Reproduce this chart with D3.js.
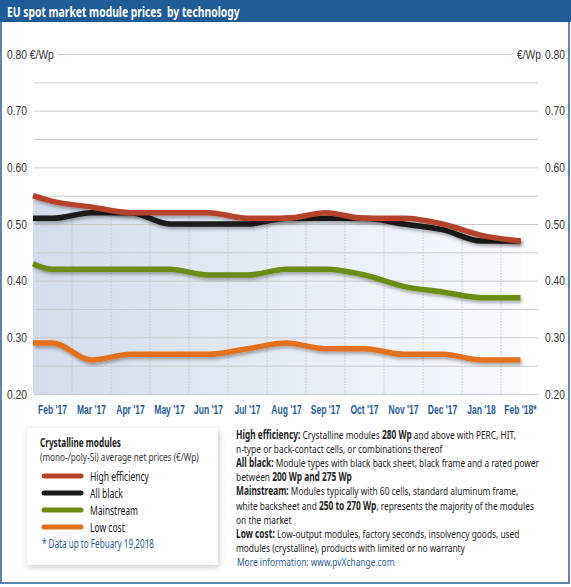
<!DOCTYPE html>
<html>
<head>
<meta charset="utf-8">
<script src="https://cdn.jsdelivr.net/npm/d3@7"></script>
<style>
  html, body { margin: 0; padding: 0; background: #fff; }
  svg { display: block; font-family: "Noto Sans", "Open Sans", sans-serif; }
  svg text { white-space: pre; }
</style>
</head>
<body>
<svg id="chart" width="571" height="587"></svg>
<script>
// ---------------- DATA ----------------
const months = ["Feb '17", "Mar '17", "Apr '17", "May '17", "Jun '17", "Jul '17", "Aug '17",
                "Sep '17", "Oct '17", "Nov '17", "Dec '17", "Jan '18", "Feb '18*"];
const seriesNames = ["High efficiency", "All black", "Mainstream", "Low cost"];
// value at the left edge of the chart (start of February 2017)
const startValues = [0.55, 0.51, 0.43, 0.29];
const highEfficiency = [0.54, 0.53, 0.52, 0.52, 0.52, 0.51, 0.51, 0.52, 0.51, 0.51, 0.50, 0.48, 0.47];
const allBlack       = [0.51, 0.52, 0.52, 0.50, 0.50, 0.50, 0.51, 0.51, 0.51, 0.50, 0.49, 0.47, 0.47];
const mainstream     = [0.42, 0.42, 0.42, 0.42, 0.41, 0.41, 0.42, 0.42, 0.41, 0.39, 0.38, 0.37, 0.37];
const lowCost        = [0.29, 0.26, 0.27, 0.27, 0.27, 0.28, 0.29, 0.28, 0.28, 0.27, 0.27, 0.26, 0.26];
const majorTicks = [0.20, 0.30, 0.40, 0.50, 0.60, 0.70, 0.80];
const gridTicks  = [0.20, 0.25, 0.30, 0.35, 0.40, 0.45, 0.50, 0.55, 0.60, 0.65, 0.70, 0.75, 0.80];
const unitLabel = "€/Wp";
const titleText = "EU spot market module prices  by technology";
const legendTitle = "Crystalline modules";
const legendSubtitle = "(mono-/poly-Si) average net prices (€/Wp)";
const footnote = "* Data up to Febuary 19,2018";
const colors = ["#b5432b", "#1b1b1b", "#6d8c12", "#e3701b"];
const notes = [
  [["High efficiency:", true], [" Crystalline modules ", false], ["280 Wp", true], [" and above with PERC, HIT,", false]],
  [["n-type or back-contact cells, or combinations thereof", false]],
  [["All black:", true], [" Module types with black back sheet, black frame and a rated power", false]],
  [["between ", false], ["200 Wp and 275 Wp", true]],
  [["Mainstream:", true], [" Modules typically with 60 cells, standard aluminum frame,", false]],
  [["white backsheet and ", false], ["250 to 270 Wp", true], [", represents the majority of the modules", false]],
  [["on the market", false]],
  [["Low cost:", true], [" Low-output modules, factory seconds, insolvency goods, used", false]],
  [["modules (crystalline), products with limited or no warranty", false]]
];
const moreInfo = "More information: www.pvXchange.com";

// ---------------- HELPERS ----------------
// horizontally condense text (the reference uses a condensed typeface)
function squeeze(sel, k) {
  sel.each(function () {
    const t = d3.select(this);
    const x = +t.attr("x") || 0, y = +t.attr("y") || 0;
    t.attr("x", 0).attr("y", 0).attr("transform", `translate(${x},${y}) scale(${k},1)`);
  });
}
const widthOf = sel => sel.node().getComputedTextLength();

// ---------------- LAYOUT ----------------
const svg = d3.select("#chart");
const W = 571;
const plotL = 33, plotR = 540, plotT = 54, plotB = 394;
const gridL = 34, gridR = 538;
const blue = "#1f5b97";

const defs = svg.append("defs");
const grad = defs.append("linearGradient").attr("id", "bgGrad").attr("x1", "0").attr("x2", "1").attr("y1", "0").attr("y2", "0");
grad.append("stop").attr("offset", "0%").attr("stop-color", "#d3dcec");
grad.append("stop").attr("offset", "100%").attr("stop-color", "#f8fafd");
const shadow = defs.append("filter").attr("id", "lineShadow").attr("x", "-5%").attr("y", "-20%").attr("width", "110%").attr("height", "160%");
shadow.append("feDropShadow").attr("dx", 1.5).attr("dy", 2.5).attr("stdDeviation", 1.5).attr("flood-color", "#000").attr("flood-opacity", 0.3);
const boxShadow = defs.append("filter").attr("id", "boxShadow").attr("x", "-10%").attr("y", "-10%").attr("width", "120%").attr("height", "120%");
boxShadow.append("feDropShadow").attr("dx", 1).attr("dy", 2).attr("stdDeviation", 3).attr("flood-color", "#000").attr("flood-opacity", 0.22);

// frame
svg.append("rect").attr("x", 1).attr("y", 0).attr("width", W - 3).attr("height", 583)
  .attr("fill", "#fff").attr("stroke", "#5d86b3").attr("stroke-width", 2);
// title bar
svg.append("rect").attr("x", 0).attr("y", 0).attr("width", W).attr("height", 22).attr("fill", blue);
const title = svg.append("text").attr("x", 7).attr("y", 16.5).attr("fill", "#fff")
  .attr("font-size", 15).attr("font-weight", "bold").text(titleText);
squeeze(title, 233 / widthOf(title));

// scales
const x = d3.scaleBand().domain(months).range([plotL, plotR]).padding(0);
const y = d3.scaleLinear().domain([0.2, 0.8]).range([plotB, plotT]);
const cx = m => x(m) + x.bandwidth() / 2;

const allSeries = [highEfficiency, allBlack, mainstream, lowCost].map((vals, i) => {
  const pts = [{ x: x(months[0]), v: startValues[i] }];
  vals.forEach((v, j) => pts.push({ x: cx(months[j]), v }));
  return { name: seriesNames[i], color: colors[i], pts };
});

const curve = d3.curveMonotoneX;
// area under high efficiency
const area = d3.area().x(d => d.x).y0(y(0.2)).y1(d => y(d.v)).curve(curve);
defs.append("clipPath").attr("id", "areaClip").append("path").attr("d", area(allSeries[0].pts));
svg.append("path").attr("d", area(allSeries[0].pts)).attr("fill", "url(#bgGrad)");

// vertical dashed month separators inside the area
svg.append("g").attr("clip-path", "url(#areaClip)")
  .selectAll("line").data(months.slice(1)).join("line")
  .attr("x1", d => x(d)).attr("x2", d => x(d)).attr("y1", plotT).attr("y2", plotB)
  .attr("stroke", "#b4bcc8").attr("stroke-width", 0.8).attr("stroke-dasharray", "1.5,1.5");

// horizontal gridlines
const gridAxis = d3.axisLeft(y).tickValues(gridTicks).tickSize(-(gridR - gridL)).tickFormat("");
const gGrid = svg.append("g").attr("transform", `translate(${gridL},0)`).call(gridAxis);
gGrid.select(".domain").remove();
gGrid.selectAll(".tick line").attr("stroke", "#c9cbce").attr("stroke-width", 1);
gGrid.selectAll(".tick").filter(d => d === 0.8).select("line").attr("x1", 24).attr("x2", 478);

// left axis labels
const fmt = d3.format(".2f");
const gLeft = svg.append("g").attr("transform", `translate(7,0)`)
  .call(d3.axisLeft(y).tickValues(majorTicks).tickSize(0).tickPadding(0).tickFormat(d => d === 0.8 ? `${fmt(d)} ${unitLabel}` : fmt(d)));
gLeft.select(".domain").remove();
gLeft.selectAll("text").attr("text-anchor", "start").attr("x", 0).attr("font-size", 13).attr("fill", "#333").attr("font-family", null);
const tickK = 20 / widthOf(gLeft.selectAll("text").filter(d => d === 0.7));
squeeze(gLeft.selectAll("text"), tickK);

// right axis labels
const gRight = svg.append("g").attr("transform", `translate(545,0)`)
  .call(d3.axisRight(y).tickValues(majorTicks).tickSize(0).tickPadding(0).tickFormat(fmt));
gRight.select(".domain").remove();
gRight.selectAll("text").attr("x", 0).attr("font-size", 13).attr("fill", "#333").attr("font-family", null);
gRight.selectAll(".tick").filter(d => d === 0.8).append("text")
  .attr("x", -4).attr("dy", "0.32em").attr("text-anchor", "end").attr("font-size", 13).attr("fill", "#333").text(unitLabel);
squeeze(gRight.selectAll("text"), tickK);

// bottom month labels
const gBottom = svg.append("g").attr("transform", `translate(0,${plotB})`)
  .call(d3.axisBottom(x).tickSize(0).tickPadding(11));
gBottom.select(".domain").remove();
gBottom.selectAll("text").attr("font-size", 12.5).attr("font-weight", "bold").attr("fill", blue).attr("font-family", null);
squeeze(gBottom.selectAll("text"), 29 / widthOf(gBottom.selectAll("text").filter(d => d === months[0])));

// lines (low cost first, high efficiency on top)
const line = d3.line().x(d => d.x).y(d => y(d.v)).curve(curve);
svg.append("g").selectAll("path").data(allSeries.slice().reverse()).join("path")
  .attr("d", d => line(d.pts)).attr("fill", "none").attr("stroke", d => d.color)
  .attr("stroke-width", 5.5).attr("stroke-linejoin", "round").attr("stroke-linecap", "butt")
  .attr("filter", "url(#lineShadow)");

// legend box
const lg = svg.append("g");
lg.append("rect").attr("x", 27).attr("y", 428).attr("width", 191).attr("height", 137)
  .attr("fill", "#fff").attr("filter", "url(#boxShadow)");
const lt = lg.append("text").attr("x", 40).attr("y", 447).attr("font-size", 12.5).attr("font-weight", "bold").attr("fill", "#222").text(legendTitle);
squeeze(lt, 81 / widthOf(lt));
const ls = lg.append("text").attr("x", 40).attr("y", 460.5).attr("font-size", 10.5).attr("fill", "#333").text(legendSubtitle);
squeeze(ls, 159 / widthOf(ls));
const items = lg.selectAll("g.item").data(allSeries).join("g").attr("class", "item")
  .attr("transform", (d, i) => `translate(0,${476 + i * 17})`);
items.append("line").attr("x1", 44).attr("x2", 81).attr("y1", 0).attr("y2", 0)
  .attr("stroke", d => d.color).attr("stroke-width", 5).attr("stroke-linecap", "round");
const itemTexts = items.append("text").attr("x", 90).attr("y", 4.5).attr("font-size", 12.5).attr("fill", "#111").text(d => d.name);
squeeze(itemTexts, 59 / widthOf(itemTexts.filter((d, i) => i === 0)));
const fn = lg.append("text").attr("x", 42).attr("y", 548).attr("font-size", 12).attr("fill", blue).text(footnote);
squeeze(fn, 112 / widthOf(fn));

// notes text block
const nt = svg.append("g");
const noteTexts = [];
notes.forEach((segs, i) => {
  const t = nt.append("text").attr("x", 236).attr("y", 439 + i * 14.1).attr("font-size", 11.5).attr("fill", "#222");
  segs.forEach(([s, b]) => t.append("tspan").attr("font-weight", b ? "bold" : "normal").text(s));
  noteTexts.push(t);
});
const noteK = 298 / widthOf(noteTexts[5]);
noteTexts.forEach(t => squeeze(t, noteK));
const mi = nt.append("text").attr("x", 237).attr("y", 439 + notes.length * 14.1).attr("font-size", 11.5).attr("fill", blue).text(moreInfo);
squeeze(mi, noteK);
</script>
</body>
</html>
